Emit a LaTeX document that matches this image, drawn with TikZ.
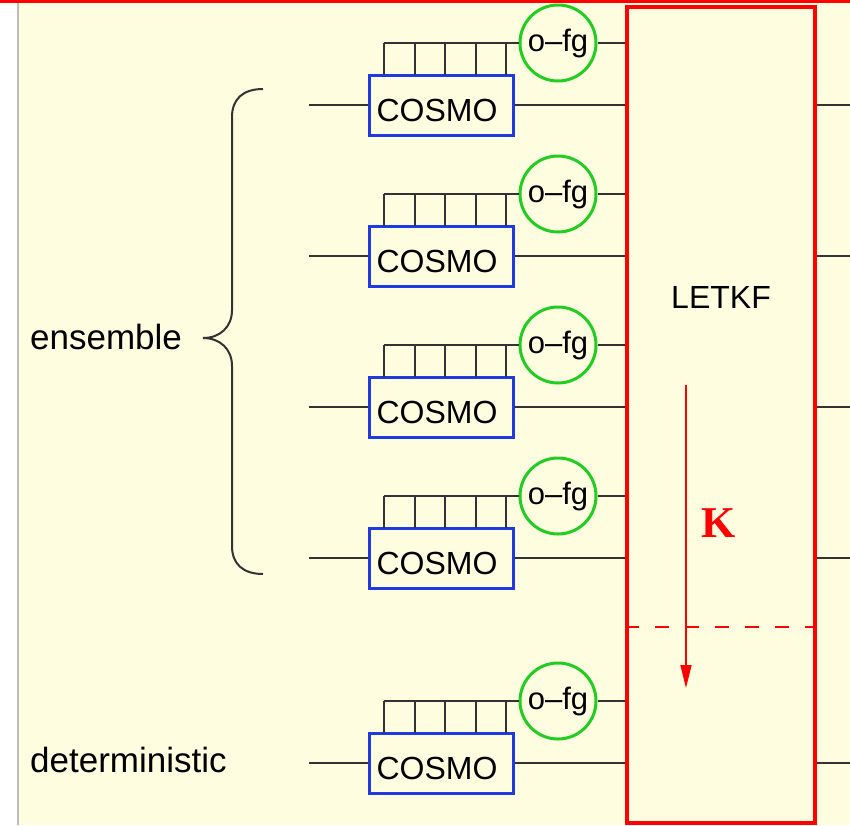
\documentclass[tikz,border=0pt]{standalone}
\usepackage{fontspec}
\setmainfont{Liberation Sans}
\newfontfamily\kfont{Liberation Serif}
\usetikzlibrary{arrows.meta}
\definecolor{bgyellow}{HTML}{FFFDE0}
\definecolor{boxblue}{HTML}{1F3BE0}
\definecolor{circgreen}{HTML}{22CC22}
\definecolor{wire}{HTML}{333333}
\definecolor{edgegrey}{HTML}{BBBBBB}
\begin{document}
\begin{tikzpicture}[x=1pt,y=-1pt,
 cosmobox/.style={draw=boxblue, line width=3pt, minimum width=144pt, minimum height=60pt, inner sep=0pt, text height=33pt, text depth=0pt, font=\fontsize{32}{38}\selectfont, fill=bgyellow},
 ofgcirc/.style={draw=circgreen, line width=3pt, circle, minimum size=76pt, inner sep=0pt, font=\fontsize{31}{37}\selectfont, fill=bgyellow},
 wireline/.style={draw=wire, line width=2pt},
 sidelabel/.style={font=\fontsize{35}{42}\selectfont, anchor=west, inner sep=0pt},
 bigbox/.style={draw=red, line width=3.5pt, minimum width=188pt, minimum height=816pt, inner sep=0pt, fill=bgyellow},
]
\useasboundingbox (0,0) rectangle (850,825);
% background
\fill[white] (0,0) rectangle (850,825);
\fill[bgyellow] (18,0) rectangle (850,825);
\draw[edgegrey, line width=2pt] (17.5,0) -- (17.5,825);
\fill[red] (0,0) rectangle (850,3.3);

% LETKF box
\node[bigbox] (letkf) at (721,415) {};
\node[font=\fontsize{32}{38}\selectfont, inner sep=0pt] (letkflabel) at (721,297) {LETKF};

% rows
\foreach \i/\y in {1/105,2/256,3/407,4/558,5/763}{
  \pgfmathsetmacro{\cy}{\y-62}
  \node[cosmobox] (cosmo\i) at (441,\y) {COSMO\hspace*{8pt}};
  \node[ofgcirc] (ofg\i) at (558,\cy) {o--fg};
  \coordinate (in\i) at (309,\y);
  \coordinate (out\i) at (850,\y);
  \coordinate (comb\i) at (384,\cy);
  \draw[wireline] (in\i) -- (cosmo\i.west);
  \draw[wireline] (cosmo\i.east) -- (cosmo\i.east -| letkf.west);
  \draw[wireline] (cosmo\i.east -| letkf.east) -- (out\i);
  \draw[wireline] (ofg\i.east) -- (ofg\i.east -| letkf.west);
  \draw[wireline] (comb\i) -- (ofg\i.west);
  \foreach \x in {384,415,445,476,506}{
    \draw[wireline] (\x,\cy) -- (\x,\y-30);
  }
}

% dashed separator and K arrow
\coordinate (dashy) at (0,627);
\draw[red, line width=2.5pt, dash pattern=on 14pt off 16pt] (letkf.west |- dashy) -- (letkf.east |- dashy);
\coordinate (kstart) at (686,385);
\coordinate (kend) at (686,688);
\draw[red, line width=1.6pt, -{Triangle[length=23pt,width=11pt]}] (kstart) -- (kend);
\node[text=red, font=\kfont\fontsize{44}{50}\selectfont\bfseries, inner sep=0pt] (klabel) at (719,523) {K};

% brace
\draw[wire, line width=2pt]
  (263,89) .. controls (243,89) and (232,99) .. (232,117) -- (232,310)
  .. controls (232,327) and (220,338) .. (203,338)
  .. controls (220,338) and (232,349) .. (232,366) -- (232,546)
  .. controls (232,564) and (243,574) .. (263,574);

% labels
\node[sidelabel] (ens) at (30,337) {ensemble};
\node[sidelabel] (det) at (30,760) {deterministic};
\end{tikzpicture}
\end{document}
